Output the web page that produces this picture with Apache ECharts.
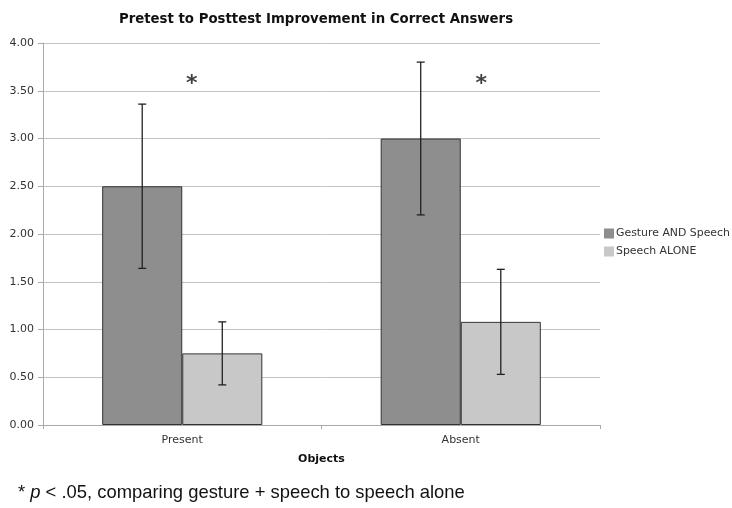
<!DOCTYPE html>
<html>
<head>
<meta charset="utf-8">
<script src="https://cdn.jsdelivr.net/npm/echarts@6/dist/echarts.min.js"></script>
<style>html,body{margin:0;padding:0;background:#fff}#c{width:732px;height:508px}</style>
</head>
<body>
<div id="c"></div>
<script>
var categories = ['Present', 'Absent'];
var seriesNames = ['Gesture AND Speech', 'Speech ALONE'];
var gestureMeans = [2.50, 3.00];
var speechMeans = [0.75, 1.08];
var gestureErr = [0.86, 0.80];
var speechErr = [0.33, 0.55];
var sigX = [0.034, 1.074];   // asterisk positions in category units
var sigY = [3.62, 3.62];
var yMin = 0, yMax = 4, yStep = 0.5;

var FONT = 'DejaVu Sans';
var chart = echarts.init(document.getElementById('c'), null, {renderer: 'canvas'});

var barCatGap = 0.425;

function errRender(side) {
  return function (params, api) {
    var i = api.value(0);
    var m = api.value(1), e = api.value(2);
    var catW = api.size([1, 0])[0];
    var bw = catW * (1 - barCatGap) / 2;
    var c = api.coord([i, m]);
    var x = c[0] + side * bw / 2;
    var top = api.coord([i, m + e])[1];
    var bot = api.coord([i, m - e])[1];
    var cap = 4;
    var st = {stroke: '#222', lineWidth: 1.3};
    return {
      type: 'group',
      children: [
        {type: 'line', shape: {x1: x, y1: top, x2: x, y2: bot}, style: st},
        {type: 'line', shape: {x1: x - cap, y1: top, x2: x + cap, y2: top}, style: st},
        {type: 'line', shape: {x1: x - cap, y1: bot, x2: x + cap, y2: bot}, style: st}
      ]
    };
  };
}

var option = {
  animation: false,
  backgroundColor: '#fff',
  title: {
    text: 'Pretest to Posttest Improvement in Correct Answers',
    left: 311, top: 8, textAlign: 'center',
    textStyle: {fontFamily: FONT, fontWeight: 'bold', fontSize: 13.3, color: '#111'}
  },
  legend: {
    orient: 'vertical', left: 604, top: 228, padding: 0,
    itemWidth: 10, itemHeight: 10, itemGap: 7,
    icon: 'rect',
    itemStyle: {borderWidth: 0},
    data: seriesNames,
    textStyle: {fontFamily: FONT, fontSize: 10.9, color: '#333', padding: [0, 0, 0, -3]}
  },
  grid: {left: 43, right: 132, top: 43, bottom: 83},
  xAxis: [{
    type: 'category', data: categories,
    name: 'Objects', nameLocation: 'middle', nameGap: 29,
    nameTextStyle: {fontFamily: FONT, fontWeight: 'bold', fontSize: 11, color: '#111'},
    axisLine: {lineStyle: {color: '#aaa'}},
    axisTick: {show: true, length: 4, lineStyle: {color: '#aaa'}},
    axisLabel: {fontFamily: FONT, fontSize: 11, color: '#333', margin: 10}
  }, {
    type: 'value', min: -0.5, max: 1.5, show: false
  }],
  yAxis: {
    type: 'value', min: yMin, max: yMax, interval: yStep,
    axisLine: {show: true, onZero: false, lineStyle: {color: '#aaa'}},
    axisTick: {show: true, length: 5, lineStyle: {color: '#aaa'}},
    axisLabel: {fontFamily: FONT, fontSize: 11, color: '#333', margin: 9,
      formatter: function (v) { return v.toFixed(2); }},
    splitLine: {lineStyle: {color: '#c4c4c4'}}
  },
  series: [
    {
      name: seriesNames[0], type: 'bar', data: gestureMeans,
      barGap: '0%', barCategoryGap: (barCatGap * 100) + '%',
      itemStyle: {color: '#8e8e8e', borderColor: '#333', borderWidth: 1}
    },
    {
      name: seriesNames[1], type: 'bar', data: speechMeans,
      barGap: '0%', barCategoryGap: (barCatGap * 100) + '%',
      itemStyle: {color: '#c8c8c8', borderColor: '#333', borderWidth: 1}
    },
    {
      type: 'custom', z: 10,
      renderItem: errRender(-1),
      data: gestureMeans.map(function (m, i) { return [i, m, gestureErr[i]]; })
    },
    {
      type: 'custom', z: 10,
      renderItem: errRender(1),
      data: speechMeans.map(function (m, i) { return [i, m, speechErr[i]]; })
    },
    {
      type: 'scatter', xAxisIndex: 1, symbolSize: 0, z: 11,
      data: sigX.map(function (x, i) { return [x, sigY[i]]; }),
      label: {show: true, position: 'inside', formatter: '*',
        fontFamily: FONT, fontWeight: 'bold', fontSize: 22, color: '#111', offset: [0, 5]}
    }
  ],
  graphic: [{
    type: 'text', left: 18, top: 484,
    style: {
      rich: {
        n: {fontFamily: 'Liberation Sans', fontSize: 18.4, fill: '#111'},
        i: {fontFamily: 'Liberation Sans', fontSize: 18.4, fontStyle: 'italic', fill: '#111'}
      },
      text: '{n|* }{i|p}{n| < .05, comparing gesture + speech to speech alone}'
    }
  }]
};
chart.setOption(option);
</script>
</body>
</html>
